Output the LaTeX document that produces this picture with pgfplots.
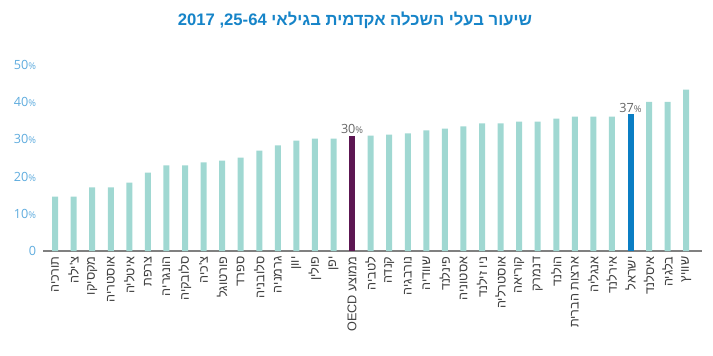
\documentclass[border=0pt]{standalone}
\usepackage{pgfplots}
\pgfplotsset{compat=1.18}
\usepackage{fontspec}
\setmainfont{Open Sans}
\newfontfamily\heb[Script=Hebrew]{Liberation Sans}
\TeXXeTstate=1
\definecolor{barc}{RGB}{160,216,210}
\definecolor{oecd}{RGB}{92,22,82}
\definecolor{isr}{RGB}{10,126,196}
\definecolor{ttl}{RGB}{22,132,200}
\definecolor{ytk}{RGB}{95,172,222}
\definecolor{axl}{RGB}{128,128,128}
\definecolor{lbl}{RGB}{64,64,64}
\newcommand{\hb}[1]{{\heb\beginR #1\endR}}
\begin{document}
\begin{tikzpicture}
\path[use as bounding box] (0,0) rectangle (534.75pt,266.25pt);
\node[font=\heb\bfseries\fontsize{12.5}{14}\selectfont, text=ttl] at (266.25pt,251.25pt)
  {\beginR שיעור בעלי השכלה אקדמית בגילאי \beginL\hbox{2017} \hbox{,}\hbox{25-64}\endL\endR};
\begin{axis}[
  at={(32.25pt,78pt)}, anchor=south west,
  scale only axis, width=494.25pt, height=139.5pt,
  xmin=-0.65, xmax=34.85, ymin=0, ymax=50,
  axis x line=bottom, axis y line=left,
  x axis line style={axl, line width=1pt, -},
  y axis line style={draw=none, -},
  ybar, bar width=4.5pt, bar shift=0pt,
  major tick length=0pt,
  ytick={0,10,20,30,40,50},
  yticklabels={0,10{\scriptsize\%},20{\scriptsize\%},30{\scriptsize\%},40{\scriptsize\%},50{\scriptsize\%}},
  yticklabel style={text=ytk, font=\fontsize{9.5}{11}\selectfont, anchor=east, inner sep=0pt, xshift=-5pt},
  xtick={0,...,34},
  xticklabels={\hb{תורכיה},\hb{צ'ילה},\hb{מקסיקו},\hb{אוסטריה},\hb{איטליה},\hb{צרפת},\hb{הונגריה},\hb{סלובקיה},\hb{צ'כיה},\hb{פורטוגל},\hb{ספרד},\hb{סלובניה},\hb{גרמניה},\hb{יוון},\hb{פולין},\hb{יפן},{\heb\beginR ממוצע OECD\endR},\hb{לטביה},\hb{קנדה},\hb{נורבגיה},\hb{שוודיה},\hb{פינלנד},\hb{אסטוניה},{\heb\beginR ניו זילנד\endR},\hb{אוסטרליה},\hb{קוריאה},\hb{דנמרק},\hb{הולנד},{\heb\beginR ארצות הברית\endR},\hb{אנגליה},\hb{אירלנד},\hb{ישראל},\hb{איסלנד},\hb{בלגיה},\hb{שוויץ}},
  xticklabel style={rotate=90, anchor=east, text=lbl, font=\fontsize{9.5}{11}\selectfont, inner xsep=4pt, inner ysep=0pt},
  clip=false,
]
\addplot[fill=barc, draw=none] coordinates {
(0,14.6) (1,14.6) (2,17.1) (3,17.1) (4,18.4) (5,21.1) (6,23.0) (7,23.0) (8,23.8) (9,24.3)
(10,25.1) (11,27.0) (12,28.4) (13,29.7) (14,30.2) (15,30.2)
(17,31.0) (18,31.3) (19,31.6) (20,32.4) (21,32.9) (22,33.5) (23,34.3) (24,34.3)
(25,34.8) (26,34.8) (27,35.6) (28,36.1) (29,36.1) (30,36.1)
(32,40.1) (33,40.1) (34,43.4)};
\addplot[fill=oecd, draw=none, nodes near coords={30{\scriptsize\%}},
  every node near coord/.append style={text=lbl!80, font=\fontsize{9.5}{11}\selectfont, inner sep=1pt}]
  coordinates {(16,31.0)};
\addplot[fill=isr, draw=none, nodes near coords={37{\scriptsize\%}},
  every node near coord/.append style={text=lbl!80, font=\fontsize{9.5}{11}\selectfont, inner sep=1pt}]
  coordinates {(31,36.9)};
\end{axis}
\end{tikzpicture}
\end{document}
